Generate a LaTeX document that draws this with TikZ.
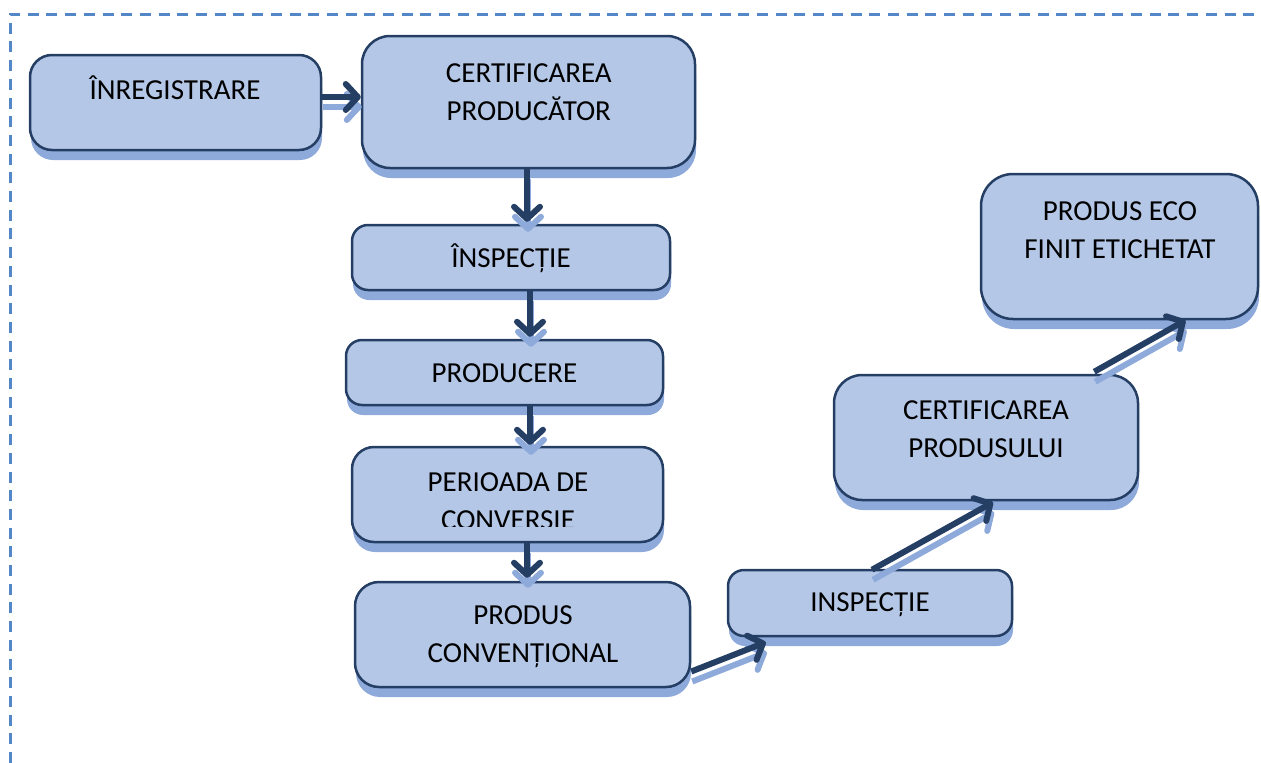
\documentclass[tikz,border=0pt]{standalone}
\usepackage{fontspec}
\setmainfont{Carlito}
\usetikzlibrary{arrows.meta,shadows,calc}
\definecolor{boxfill}{RGB}{180,199,231}
\definecolor{boxshadow}{RGB}{142,170,219}
\definecolor{navy}{RGB}{36,62,100}
\definecolor{framecol}{RGB}{84,135,200}
\tikzset{
  box/.style={draw=navy, line width=2.5pt, fill=boxfill, inner sep=0pt,
    general shadow={fill=boxshadow, shadow xshift=1pt, shadow yshift=-10pt}},
  txt/.style={align=center, inner sep=0pt, anchor=base,
    font=\fontsize{29}{38}\selectfont},
  arrdark/.style={draw=navy, line width=6pt,
    -{Straight Barb[length=12pt,width=26pt,round]}},
  arrlight/.style={draw=boxshadow, line width=6pt,
    -{Straight Barb[length=12pt,width=26pt,round]},
    transform canvas={xshift=1pt,yshift=-10pt}},
  frame/.style={draw=framecol, line width=3pt, dash pattern=on 11pt off 7.7pt}
}
\newcommand\flowarrow[2]{%
  \draw[arrlight] #1 -- #2;
  \draw[arrdark] #1 -- #2;}
\begin{document}
\begin{tikzpicture}[x=1pt,y=-1pt]
\useasboundingbox (0,0) rectangle (1261,763);
\draw[frame] (10,763) -- (10,14) -- (1261,14);

% boxes
\node[box, rounded corners=22pt, minimum width=291pt, minimum height=95pt] (n1) at (175.5,102.5) {};
\node[box, rounded corners=28pt, minimum width=333pt, minimum height=132pt] (n2) at (528.5,102) {};
\node[box, rounded corners=16pt, minimum width=318pt, minimum height=65pt] (n3) at (511,257.5) {};
\node[box, rounded corners=16pt, minimum width=317pt, minimum height=65pt] (n4) at (504.5,372.5) {};
\node[box, rounded corners=22pt, minimum width=311pt, minimum height=95pt] (n5) at (507.5,494.5) {};
\node[box, rounded corners=24pt, minimum width=335pt, minimum height=105pt] (n6) at (522.5,634.5) {};
\node[box, rounded corners=16pt, minimum width=284pt, minimum height=66pt] (n7) at (870,603) {};
\node[box, rounded corners=28pt, minimum width=304pt, minimum height=125pt] (n8) at (986,437.5) {};
\node[box, rounded corners=32pt, minimum width=277pt, minimum height=145pt] (n9) at (1119.5,246.5) {};

% texts (base anchor = baseline of the last line)
\node[txt] (t1) at (175,99) {ÎNREGISTRARE};
\node[txt] (t2) at (528.8,120) {CERTIFICAREA\\PRODUCĂTOR};
\node[txt] (t3) at (511,267) {ÎNSPECȚIE};
\node[txt] (t4) at (504.5,382) {PRODUCERE};
\begin{scope}
\clip (0,0) rectangle (1261,526);
\node[txt] (t5) at (508,529) {PERIOADA DE\\CONVERSIE};
\end{scope}
\node[txt] (t6) at (523,662) {PRODUS\\CONVENȚIONAL};
\node[txt] (t7) at (870,611) {INSPECȚIE};
\node[txt] (t8) at (986,457) {CERTIFICAREA\\PRODUSULUI};
\node[txt] (t9) at (1120,258) {PRODUS ECO\\FINIT ETICHETAT};

% connector end points
\coordinate (a1s) at ([yshift=5.5pt]n1.east);
\coordinate (a2s) at ([xshift=-1.5pt]n2.south);
\coordinate (a3s) at ([xshift=19pt]n3.south);
\coordinate (a4s) at ([xshift=25.5pt]n4.south);
\coordinate (a5s) at ([xshift=19.5pt]n5.south);
\coordinate (a6s) at ([yshift=-37pt]n6.east);
\coordinate (a6e) at ([shift={(39pt,-5pt)}]n7.south west);
\coordinate (a7s) at ([shift={(2pt,-1pt)}]n7.north);
\coordinate (a7e) at ([shift={(7pt,-1pt)}]n8.south);
\coordinate (a8s) at ([shift={(-45pt,2pt)}]n8.north east);
\coordinate (a8e) at ([xshift=66pt]n9.south);

% connectors
\flowarrow{(a1s)}{(a1s -| n2.west)}
\flowarrow{(a2s)}{([yshift=2pt]a2s |- n3.north)}
\flowarrow{(a3s)}{([yshift=2pt]a3s |- n4.north)}
\flowarrow{(a4s)}{([yshift=1pt]a4s |- n5.north)}
\flowarrow{(a5s)}{([yshift=3pt]a5s |- n6.north)}
\flowarrow{(a6s)}{(a6e)}
\flowarrow{(a7s)}{(a7e)}
\flowarrow{(a8s)}{(a8e)}
\end{tikzpicture}
\end{document}
